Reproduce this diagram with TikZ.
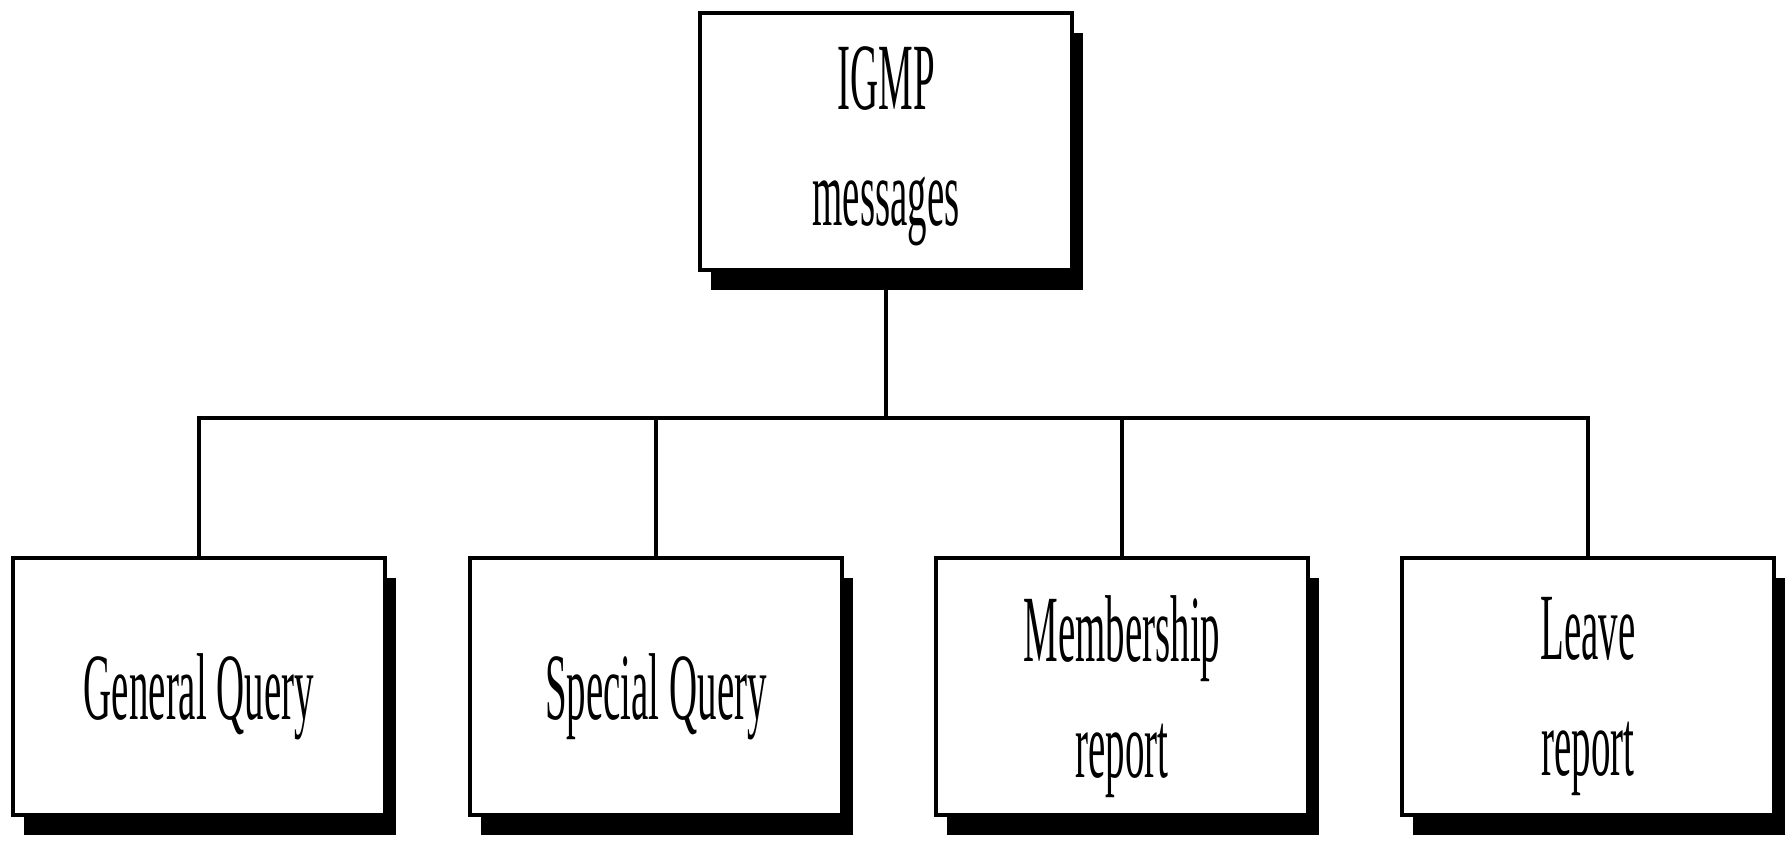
\documentclass[tikz,border=0pt]{standalone}
\usepackage{fontspec}
\setmainfont{Liberation Serif}
\usetikzlibrary{shadows}
\newcommand{\sq}[1]{\scalebox{0.41}[1]{#1}}
\begin{document}
\begin{tikzpicture}[x=0.01cm, y=-0.01cm,
  msgbox/.style={draw=black, line width=1.2pt, fill=white, inner sep=0pt,
    minimum width=3.72cm, minimum height=2.57cm,
    drop shadow={shadow xshift=0.11cm, shadow yshift=-0.20cm, opacity=1, fill=black}},
  lbl/.style={inner sep=0pt, align=center, font=\fontsize{27}{33}\selectfont},
  link/.style={draw=black, line width=1pt}]
\useasboundingbox (0,0) rectangle (1787,842);
\coordinate (j) at (886,418);
\node[msgbox] (top) at (886,141.5) {};
\node[msgbox] (g) at (199,686.5) {};
\node[msgbox] (s) at (656,686.5) {};
\node[msgbox] (m) at (1122,686.5) {};
\node[msgbox] (l) at (1588,686.5) {};
\node[lbl] (topt) at ([yshift=-0.05cm]top.center) {\sq{IGMP}\\\sq{messages}};
\node[lbl] (gt) at ([yshift=-0.1cm]g.center) {\sq{General Query}};
\node[lbl] (st) at ([yshift=-0.1cm]s.center) {\sq{Special Query}};
\node[lbl] (mt) at ([yshift=-0.1cm]m.center) {\sq{Membership}\\\sq{report}};
\node[lbl] (lt) at ([yshift=-0.1cm]l.center) {\sq{Leave}\\\sq{report}};
\draw[link] (top.south) -- (j);
\draw[link] (g.north) -- (g.north |- j) -- (l.north |- j) -- (l.north);
\draw[link] (s.north) -- (s.north |- j);
\draw[link] (m.north) -- (m.north |- j);
\end{tikzpicture}
\end{document}
